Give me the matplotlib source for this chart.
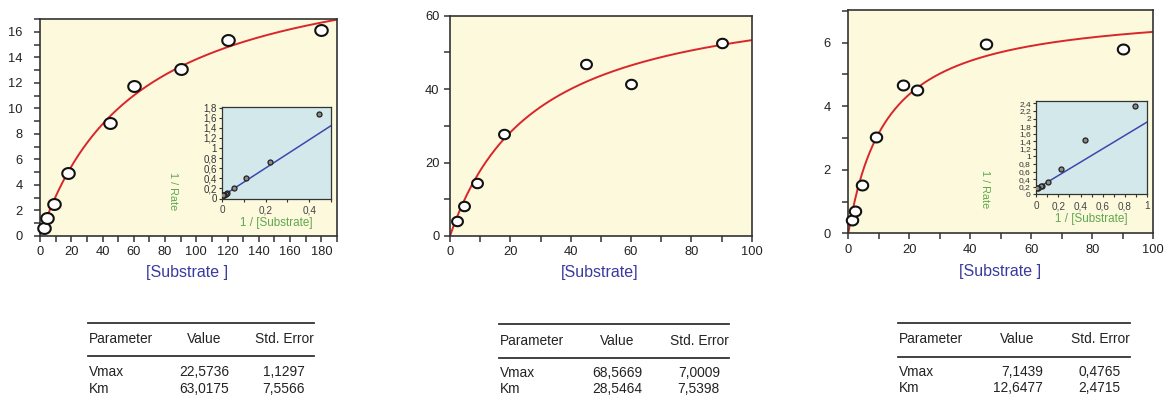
import numpy as np
import matplotlib
matplotlib.use("Agg")
import matplotlib.pyplot as plt
from matplotlib.path import Path
from matplotlib.lines import Line2D
from matplotlib.ticker import MultipleLocator, FuncFormatter

plt.rcParams['font.family'] = ['Liberation Sans', 'DejaVu Sans']

# ---- experiment 1 ----
s1 = [2.25, 4.5, 9, 18, 45, 60, 90, 120, 180]
v1 = [0.6, 1.38, 2.5, 4.9, 8.85, 11.75, 13.07, 15.34, 16.15]
fit1 = {"Vmax": (22.5736, 1.1297), "Km": (63.0175, 7.5566)}

# ---- experiment 2 ----
s2 = [2.25, 4.5, 9, 18, 45, 60, 90]
v2 = [4.2, 8.2, 14.3, 27.9, 46.8, 41.5, 52.5]
fit2 = {"Vmax": (68.5669, 7.0009), "Km": (28.5464, 7.5398)}

# ---- experiment 3 ----
s3 = [1.125, 2.25, 4.5, 9, 18, 22.5, 45, 90]
v3 = [0.43, 0.70, 1.52, 3.02, 4.67, 4.51, 5.97, 5.81]
fit3 = {"Vmax": (7.1439, 0.4765), "Km": (12.6477, 2.4715)}

W, H = 1169, 401
fig = plt.figure(figsize=(W / 100, H / 100), dpi=100)

BG_MAIN = '#fcf9dc'
BG_INSET = '#d3e8ea'
RED = '#d9262b'
BLUE_LINE = '#3a48b0'
GREEN = '#5fa84f'
LABEL_BLUE = '#3a3aa0'
DARK = '#333333'


def fx(px):
    return px / W


def fy(py):
    return 1 - py / H


def box(left, top, right, bottom):
    return [fx(left), fy(bottom), fx(right) - fx(left), (bottom - top) / H]


# slightly flattened open-circle marker
t = np.linspace(0, 2 * np.pi, 60)
ellipse = Path(np.column_stack([1.15 * np.cos(t), np.sin(t)]), closed=True)


def comma_fmt(v, pos):
    if abs(v) < 1e-9:
        return '0'
    s = ('%.1f' % v).rstrip('0').rstrip('.')
    return s.replace('.', ',')


def main_axes(rect, s, v, fit, xmax, ymax, xmaj, xmin_, ymaj, ymin_, msize, ypad):
    ax = fig.add_axes(rect)
    ax.set_facecolor(BG_MAIN)
    vmax, km = fit["Vmax"][0], fit["Km"][0]
    xs = np.linspace(0, xmax, 400)
    ax.plot(xs, vmax * xs / (km + xs), color=RED, lw=1.4, zorder=2)
    ax.plot(s, v, linestyle='none', marker=ellipse, markersize=msize,
            mfc='white', mec='#111111', mew=1.5, zorder=3, clip_on=False)
    ax.set_xlim(0, xmax)
    ax.set_ylim(0, ymax)
    ax.xaxis.set_major_locator(MultipleLocator(xmaj))
    ax.xaxis.set_minor_locator(MultipleLocator(xmin_))
    ax.yaxis.set_major_locator(MultipleLocator(ymaj))
    ax.yaxis.set_minor_locator(MultipleLocator(ymin_))
    ax.tick_params(which='both', direction='out', length=4.5, width=1.1,
                   color=DARK, labelsize=9.3, labelcolor='#222222', pad=3)
    ax.tick_params(axis='y', pad=ypad)
    for sp in ax.spines.values():
        sp.set_color(DARK)
        sp.set_linewidth(1.2)
    return ax


def inset_axes(rect, s, v, fit, xmax, ymax, xmaj, label_xy, rate_xy, ylab_size):
    ax = fig.add_axes(rect)
    ax.set_facecolor(BG_INSET)
    vmax, km = fit["Vmax"][0], fit["Km"][0]
    inv_s = 1 / np.asarray(s, float)
    inv_v = 1 / np.asarray(v, float)
    xs = np.linspace(0, xmax, 50)
    ax.plot(xs, km / vmax * xs + 1 / vmax, color=BLUE_LINE, lw=1.1, zorder=2)
    ax.plot(inv_s, inv_v, linestyle='none', marker='o', markersize=3.6,
            mfc='#8a8a8a', mec='#222222', mew=0.9, zorder=3)
    ax.set_xlim(0, xmax)
    ax.set_ylim(0, ymax)
    ax.xaxis.set_major_locator(MultipleLocator(xmaj))
    ax.xaxis.set_minor_locator(MultipleLocator(xmaj / 2))
    ax.yaxis.set_major_locator(MultipleLocator(0.2))
    ax.xaxis.set_major_formatter(FuncFormatter(comma_fmt))
    ax.yaxis.set_major_formatter(FuncFormatter(comma_fmt))
    ax.tick_params(which='both', direction='out', length=2.5, width=0.8,
                   color=DARK, labelsize=ylab_size, labelcolor='#333333', pad=1.2)
    ax.tick_params(axis='x', labelsize=7.2, pad=2.5, labelcolor='#444444')
    for sp in ax.spines.values():
        sp.set_color(DARK)
        sp.set_linewidth(0.9)
    ax.text(label_xy[0], label_xy[1], '1 / [Substrate]', transform=ax.transAxes,
            ha='center', va='center', color=GREEN, fontsize=8.4)
    ax.text(rate_xy[0], rate_xy[1], '1 / Rate', transform=ax.transAxes,
            ha='center', va='center', color=GREEN, fontsize=7.8, rotation=270)
    return ax


def table(x0, x1, y_top, y_head, y_mid, y_rows, val_center, val_right, err_right, fit):
    kw = dict(fontsize=9.9, color='#222222', va='center')
    for yy in (y_top, y_mid):
        fig.add_artist(Line2D([fx(x0), fx(x1)], [fy(yy), fy(yy)],
                              color='#333333', lw=1.3, transform=fig.transFigure))
    fig.text(fx(x0 + 1), fy(y_head), 'Parameter', ha='left', **kw)
    fig.text(fx(val_center), fy(y_head), 'Value', ha='center', **kw)
    fig.text(fx(x1), fy(y_head), 'Std. Error', ha='right', **kw)
    for yy, name in zip(y_rows, ("Vmax", "Km")):
        val, err = fit[name]
        fig.text(fx(x0 + 1), fy(yy), name, ha='left', **kw)
        fig.text(fx(val_right), fy(yy), ('%.4f' % val).replace('.', ','), ha='right', **kw)
        fig.text(fx(err_right), fy(yy), ('%.4f' % err).replace('.', ','), ha='right', **kw)


# panel 1
ax1 = main_axes(box(40, 19, 337, 236), s1, v1, fit1, 190, 17.0, 20, 10, 2, 1, 9.0, 8)
fig.text(fx(187), fy(272), '[Substrate ]', ha='center', va='center',
         color=LABEL_BLUE, fontsize=11.5)
inset_axes(box(222, 106.5, 331, 198.5), s1, v1, fit1, 0.5, 1.82, 0.2,
           (0.495, -0.263), (-0.45, 0.076), 7.0)
table(88, 314, 322.7, 339.3, 355.7, (372.3, 389), 204.5, 229, 305, fit1)

# panel 2
ax2 = main_axes(box(450, 15.7, 751.7, 236), s2, v2, fit2, 100, 60, 20, 10, 20, 10, 7.8, 3)
fig.text(fx(600), fy(273), '[Substrate]', ha='center', va='center',
         color=LABEL_BLUE, fontsize=11.5)
table(499, 729, 324, 340.7, 358, (373, 389), 616.7, 642, 720, fit2)

# panel 3
ax3 = main_axes(box(848.3, 10, 1153.3, 233.3), s3, v3, fit3, 100, 7.03, 20, 10, 2, 1, 8.2, 8)
fig.text(fx(1000), fy(271.5), '[Substrate ]', ha='center', va='center',
         color=LABEL_BLUE, fontsize=11.5)
inset_axes(box(1036, 100.7, 1147.3, 194.3), s3, v3, fit3, 1.0, 2.47, 0.2,
           (0.5, -0.267), (-0.458, 0.057), 6.0)
table(898, 1130, 323.3, 339, 356.7, (372, 388), 1016.7, 1042.7, 1120.7, fit3)

fig.savefig('out.png', dpi=100, facecolor='white')
